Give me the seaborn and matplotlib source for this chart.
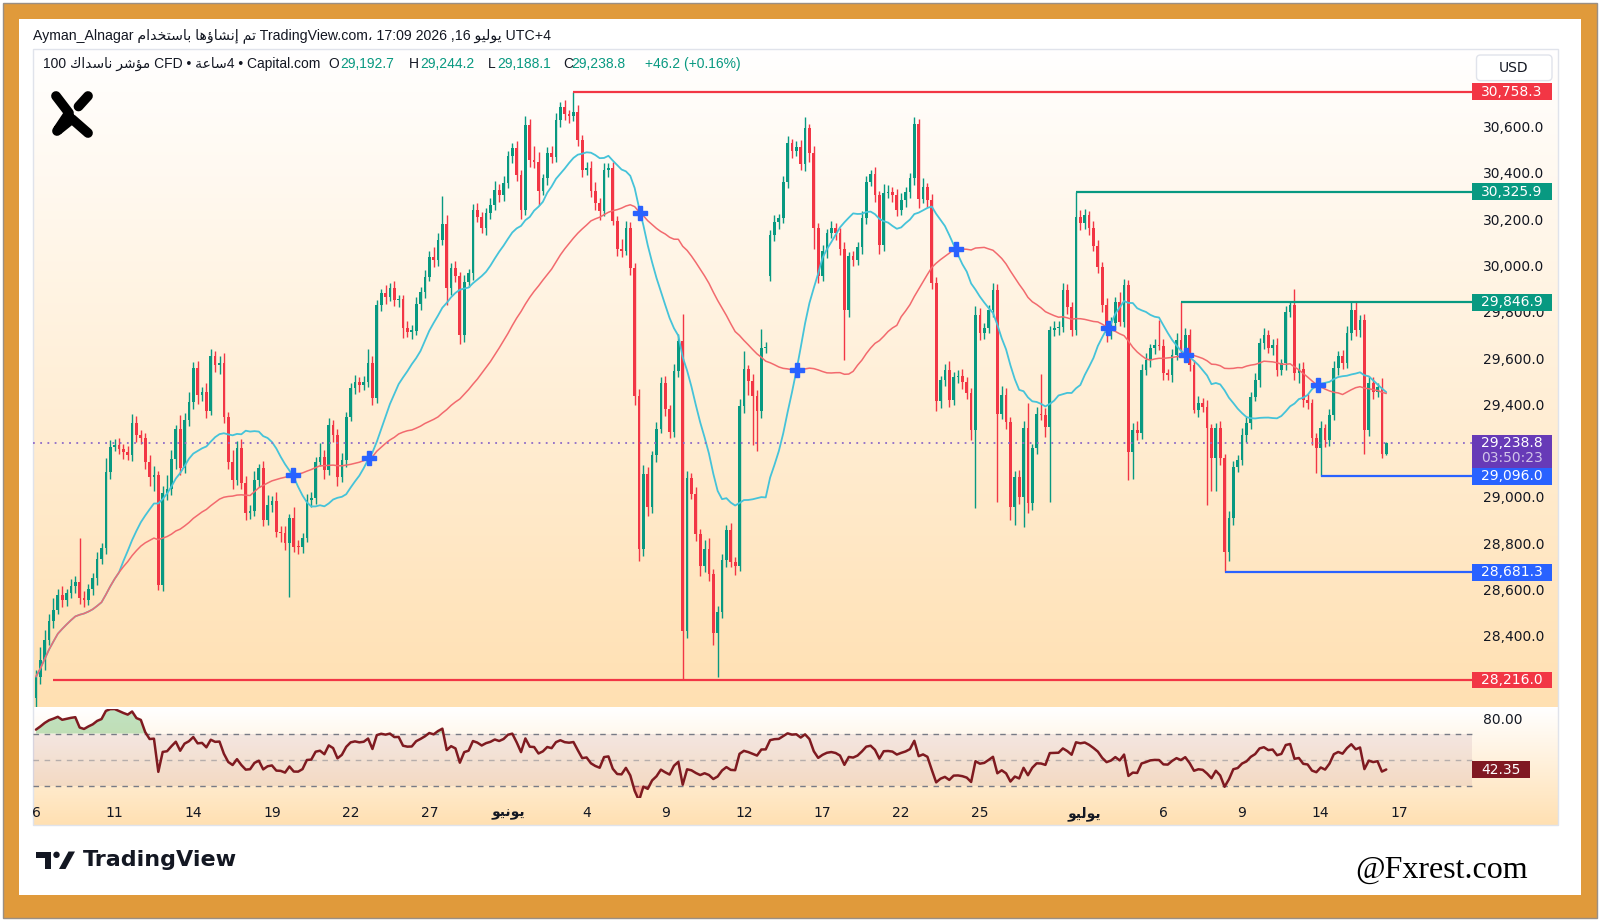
import matplotlib
matplotlib.use("Agg")
import matplotlib.pyplot as plt
import matplotlib.colors as mcolors
from matplotlib.patches import Rectangle, FancyBboxPatch, Polygon, Circle
import numpy as np
import pandas as pd
import seaborn as sns

# ---- data (4h candles, 6 per trading day) ----
first_open = 28140
closes = [
    28230, 28300, 28390, 28470, 28520, 28583, 28561, 28590, 28620, 28640,
    28570, 28560, 28610, 28655, 28737, 28787, 29116, 29224, 29230, 29215,
    29200, 29188, 29325, 29274, 29260, 29159, 29094, 29100, 28626, 29022,
    29040, 29169, 29299, 29130, 29339, 29418, 29565, 29447, 29461, 29379,
    29615, 29576, 29585, 29353, 29159, 29080, 29217, 29066, 28936, 28945,
    29080, 29130, 28906, 28972, 28990, 28857, 28850, 28806, 28914, 28792,
    28790, 28831, 28993, 29000, 29159, 29180, 29123, 29317, 29274, 29094,
    29166, 29354, 29476, 29505, 29490, 29505, 29587, 29433, 29836, 29886,
    29872, 29908, 29858, 29860, 29735, 29721, 29725, 29840, 29894, 29958,
    30045, 30030, 30117, 30185, 29908, 29994, 29960, 29706, 29937, 29973,
    30246, 30218, 30167, 30232, 30268, 30333, 30311, 30362, 30480, 30513,
    30398, 30246, 30614, 30462, 30455, 30330, 30383, 30494, 30474, 30635,
    30690, 30660, 30652, 30668, 30549, 30418, 30430, 30327, 30277, 30244,
    30418, 30430, 30200, 30079, 30070, 30170, 29996, 29443, 28781, 29104,
    28963, 29186, 29302, 29500, 29385, 29286, 29550, 29682, 28426, 29087,
    29021, 28847, 28707, 28781, 28674, 28418, 28509, 28732, 28864, 28724,
    28710, 29401, 29558, 29509, 29443, 29376, 29649, 29655, 30137, 30195,
    30211, 30368, 30534, 30501, 30520, 30443, 30600, 30492, 30170, 29963,
    30071, 30145, 30170, 30145, 30079, 29815, 30046, 30029, 30087, 30211,
    30368, 30401, 30310, 30096, 30318, 30325, 30311, 30246, 30289, 30325,
    30383, 30620, 30296, 30344, 30289, 29929, 29420, 29511, 29555, 29425,
    29526, 29530, 29504, 29454, 29295, 29792, 29713, 29735, 29814, 29900,
    29367, 29447, 29331, 28964, 29094, 29007, 29303, 28979, 29216, 29367,
    29360, 29310, 29727, 29735, 29740, 29900, 29828, 29727, 30217, 30190,
    30224, 30167, 30090, 30001, 29836, 29714, 29757, 29850, 29764, 29922,
    29202, 29296, 29282, 29555, 29598, 29649, 29663, 29660, 29541, 29535,
    29620, 29685, 29642, 29706, 29577, 29382, 29411, 29397, 29303, 29174,
    29303, 29174, 28770, 28914, 29138, 29166, 29274, 29325, 29440, 29512,
    29670, 29706, 29649, 29663, 29555, 29584, 29807, 29836, 29541, 29560,
    29426, 29411, 29260, 29217, 29303, 29253, 29361, 29562, 29616, 29584,
    29714, 29814, 29728, 29771, 29296, 29498, 29460, 29480, 29192.7, 29238.8,
]
wick_hi = [
    30, 60, 40, 30, 50, 25, 40, 20, 30, 25,
    190, 30, 20, 25, 30, 20, 60, 30, 25, 30,
    20, 25, 40, 30, 20, 25, 30, 40, 20, 30,
    60, 40, 20, 60, 30, 40, 25, 30, 20, 40,
    30, 20, 30, 45, 20, 50, 30, 40, 30, 25,
    40, 20, 30, 45, 20, 40, 25, 30, 20, 50,
    30, 20, 25, 30, 20, 60, 30, 30, 20, 25,
    30, 20, 25, 30, 20, 25, 60, 30, 20, 20,
    35, 25, 30, 20, 20, 30, 25, 30, 20, 30,
    25, 40, 30, 120, 40, 25, 30, 20, 30, 20,
    25, 30, 20, 25, 30, 40, 25, 30, 20, 25,
    30, 20, 40, 25, 60, 40, 20, 25, 30, 30,
    25, 30, 20, 90.3, 30, 20, 25, 30, 40, 20,
    30, 20, 25, 20, 40, 30, 25, 20, 30, 40,
    30, 20, 30, 25, 30, 20, 30, 30, 116, 30,
    25, 30, 20, 40, 50, 20, 25, 30, 20, 30,
    25, 30, 80, 20, 30, 25, 83, 20, 25, 30,
    20, 25, 30, 20, 25, 30, 49, 20, 30, 20,
    25, 20, 30, 20, 25, 30, 20, 25, 20, 30,
    25, 20, 30, 20, 40, 30, 20, 25, 30, 20,
    25, 30, 20, 40, 20, 25, 30, 20, 25, 40,
    20, 25, 30, 20, 25, 40, 30, 25, 20, 30,
    25, 40, 30, 20, 25, 30, 30, 108, 20, 30,
    170, 30, 20, 30, 25, 29, 25, 20, 108.9, 30,
    25, 20, 30, 25, 20, 30, 25, 20, 40, 25,
    20, 30, 40, 25, 30, 20, 25, 110, 30, 20,
    25, 30, 162, 30, 25, 20, 30, 25, 30, 20,
    25, 30, 20, 30, 25, 20, 30, 25, 20, 30,
    25, 30, 20, 25, 30, 20, 25, 11, 70, 25,
    30, 25, 20, 25, 30, 20, 25, 30, 20, 25,
    30, 33, 36, 20, 25, 30, 25, 20, 40, 5.4,
]
wick_lo = [
    90, 30, 40, 25, 30, 20, 30, 25, 20, 30,
    25, 30, 20, 25, 30, 20, 25, 30, 20, 25,
    30, 20, 25, 30, 25, 30, 40, 60, 20, 25,
    30, 25, 40, 30, 20, 25, 30, 40, 25, 30,
    20, 30, 40, 25, 30, 40, 20, 25, 30, 25,
    20, 30, 25, 20, 30, 25, 40, 30, 230, 25,
    30, 25, 20, 30, 25, 20, 40, 20, 30, 40,
    25, 30, 20, 25, 30, 20, 25, 30, 20, 25,
    30, 20, 25, 30, 40, 25, 30, 20, 25, 30,
    20, 30, 25, 20, 70, 30, 25, 40, 30, 25,
    30, 25, 20, 30, 25, 20, 30, 25, 20, 30,
    25, 40, 20, 30, 25, 60, 20, 30, 25, 20,
    30, 25, 30, 20, 25, 30, 20, 25, 30, 40,
    25, 30, 20, 30, 25, 20, 30, 40, 50, 30,
    40, 25, 30, 20, 30, 25, 20, 25, 210, 30,
    25, 30, 40, 25, 30, 50, 190, 25, 30, 20,
    40, 25, 30, 60, 210, 173, 30, 20, 24, 25,
    30, 20, 25, 30, 20, 25, 30, 40, 90, 30,
    25, 30, 20, 30, 25, 215, 30, 25, 20, 30,
    25, 20, 30, 40, 25, 20, 30, 25, 20, 30,
    25, 30, 40, 20, 30, 25, 40, 30, 25, 30,
    20, 25, 30, 25, 43, 338, 30, 25, 20, 30,
    381, 25, 30, 57, 79, 30, 129, 40, 30, 25,
    20, 43, 324, 25, 30, 20, 30, 25, 20, 30,
    25, 30, 20, 25, 30, 40, 25, 30, 20, 25,
    122, 120, 30, 25, 20, 30, 25, 20, 30, 25,
    30, 20, 25, 30, 25, 14, 30, 25, 330, 140,
    140, 30, 88.7, 40, 30, 25, 20, 30, 25, 20,
    30, 25, 20, 30, 25, 20, 30, 25, 30, 40,
    30, 25, 30, 105, 121, 30, 25, 20, 30, 25,
    20, 30, 25, 30, 106, 25, 30, 20, 20, 4.6,
]
gap_opens = {168: 29963}

bars_per_day = 6
day_ticks = [0, 3, 6, 9, 12, 15, 18, 21, 24, 27, 30, 33, 36, 40, 43, 46, 49, 52]
day_labels = ["6", "11", "14", "19", "22", "27", "يونيو", "4", "9", "12",
              "17", "22", "25", "يوليو", "6", "9", "14", "17"]
# 28,200 and 29,200 are hidden behind label boxes on the reference
price_ticks = [28400, 28600, 28800, 29000, 29400, 29600,
               29800, 30000, 30200, 30400, 30600]
level_prices = [30758.3, 30325.9, 29846.9, 29096.0, 28681.3, 28216.0]
level_start = [123, 238, 262, 294, 272, 4]
level_colors = ["#F23645", "#089981", "#089981", "#2962FF", "#2962FF", "#F23645"]
last_price = 29238.8
countdown = "03:50:23"
rsi_first = 73.0   # RSI at the left edge of the pane
rsi_last = 42.35
ohlc_text = ["29,192.7", "29,244.2", "29,188.1", "29,238.8"]
change_text = "+46.2 (+0.16%)"

# ---- minimal Arabic shaping (presentation forms, visual order) ----
AR = {
    "ا": "\ufe8d\ufe8e", "إ": "\ufe87\ufe88", "ؤ": "\ufe85\ufe86", "د": "\ufea9\ufeaa",
    "ر": "\ufead\ufeae", "و": "\ufeed\ufeee", "ة": "\ufe93\ufe94",
    "ب": "\ufe8f\ufe90\ufe91\ufe92", "ت": "\ufe95\ufe96\ufe97\ufe98",
    "خ": "\ufea5\ufea6\ufea7\ufea8", "س": "\ufeb1\ufeb2\ufeb3\ufeb4",
    "ش": "\ufeb5\ufeb6\ufeb7\ufeb8", "ع": "\ufec9\ufeca\ufecb\ufecc",
    "ك": "\ufed9\ufeda\ufedb\ufedc", "ل": "\ufedd\ufede\ufedf\ufee0",
    "م": "\ufee1\ufee2\ufee3\ufee4", "ن": "\ufee5\ufee6\ufee7\ufee8",
    "ه": "\ufee9\ufeea\ufeeb\ufeec", "ي": "\ufef1\ufef2\ufef3\ufef4",
}


def ar(text):
    out = []
    for k, ch in enumerate(text):
        forms = AR.get(ch)
        if forms is None:
            out.append(ch)
            continue
        prev = AR.get(text[k - 1], "") if k else ""
        nxt = text[k + 1] if k + 1 < len(text) else ""
        jp = len(prev) == 4
        jn = nxt in AR and len(forms) == 4
        if jp and jn:
            out.append(forms[3])
        elif jp:
            out.append(forms[1])
        elif jn:
            out.append(forms[2])
        else:
            out.append(forms[0])
    return "".join(out)[::-1]


# ---- derived series ----
opens = []
prev = first_open
for k, c in enumerate(closes):
    opens.append(gap_opens.get(k, prev))
    prev = c
o = np.array(opens, dtype=float)
c = np.array(closes, dtype=float)
hi = np.maximum(o, c) + np.array(wick_hi)
lo = np.minimum(o, c) - np.array(wick_lo)
idx = np.arange(len(c))
s = pd.Series(c)
ma_fast = s.rolling(20, min_periods=1).mean()
ma_slow = s.rolling(50, min_periods=1).mean()

# Wilder RSI(14), seeded so the first value matches the pane's left edge
avg_gain = 40.0
avg_loss = avg_gain * (100 - rsi_first) / rsi_first
rsi = [rsi_first]
for k in range(1, len(c)):
    ch = c[k] - c[k - 1]
    avg_gain = (avg_gain * 13 + max(ch, 0)) / 14
    avg_loss = (avg_loss * 13 + max(-ch, 0)) / 14
    rsi.append(100 - 100 / (1 + avg_gain / avg_loss))
rv = np.array(rsi)

GREEN, RED = "#089981", "#F23645"
TXT = "#131722"
X_LEFT, PLOT_RIGHT, BOX_RIGHT, X_RIGHT = -0.77, 328.7, 346.9, 348.3
LABEL_X = 331.1

sns.set_theme(style="white")
plt.rcParams["font.family"] = ["DejaVu Sans"]
UI_FONT = ["Liberation Sans", "DejaVu Sans"]

W, H = 1600, 921
fig = plt.figure(figsize=(16, 9.21), dpi=100)
fig.patch.set_facecolor("white")

# background / frame
bg = fig.add_axes([0, 0, 1, 1], zorder=0)
bg.set_axis_off()
bg.add_patch(Rectangle((3, 3), 1594, 915, facecolor="#E09A3B", edgecolor="#9A8F84", lw=1))
bg.add_patch(Rectangle((19, 19), 1562, 876, facecolor="white", edgecolor="none"))


def vgrad(ax, x0, x1, y0, y1, top, bottom):
    t = np.linspace(0, 1, 256)[:, None, None]
    c0 = np.array(mcolors.to_rgb(top))
    c1 = np.array(mcolors.to_rgb(bottom))
    ax.imshow(c0 + (c1 - c0) * t, extent=(x0, x1, y1, y0), aspect="auto",
              interpolation="bilinear", zorder=1)


vgrad(bg, 32.6, 1558, 49, 707, "#FFFFFF", "#FFE0B2")
vgrad(bg, 32.6, 1558, 709, 825, "#FFFFFF", "#FFE0B2")
bg.add_patch(Rectangle((32.6, 49), 1525.4, 776, facecolor="none", edgecolor="#E0E3EB", lw=1, zorder=2))
bg.set_xlim(0, W)
bg.set_ylim(H, 0)

# ---- main price pane ----
ax = fig.add_axes([32.6 / W, 1 - 707 / H, (1558 - 32.6) / W, 658 / H], zorder=1)
ax.set_facecolor("none")
colors = np.where(c >= o, GREEN, RED)
ax.vlines(idx, lo, hi, colors=colors, lw=1.0, zorder=2)
ax.bar(idx, np.maximum(np.abs(c - o), 5), bottom=np.minimum(o, c), width=0.62,
       color=colors, linewidth=0, zorder=2.1)
sns.lineplot(x=idx, y=ma_fast.values, ax=ax, color="#45C3D9", linewidth=1.3, zorder=3)
sns.lineplot(x=idx, y=ma_slow.values, ax=ax, color="#F26A6E", linewidth=1.1, zorder=3)

# MA crossings
d = (ma_fast - ma_slow).values
for k in range(21, len(d)):
    if np.sign(d[k]) != np.sign(d[k - 1]) and d[k] != 0:
        t = d[k - 1] / (d[k - 1] - d[k])
        xk = k - 1 + t
        yk = ma_fast[k - 1] + t * (ma_fast[k] - ma_fast[k - 1])
        ax.plot(xk, yk, marker="P", markersize=10, color="#2962FF",
                markeredgecolor="#2962FF", zorder=4)

# levels
for p, st, col in zip(level_prices, level_start, level_colors):
    ax.hlines(p, st, PLOT_RIGHT, colors=col, lw=1.6, zorder=3.5)
ax.hlines(last_price, X_LEFT, PLOT_RIGHT, colors="#8E6BC9", linestyles=(0, (1, 3)), lw=1.3, zorder=3.5)

# price scale
for p in price_ticks:
    ax.text(LABEL_X, p, f"{p:,.1f}", va="center", ha="left", fontsize=10, color=TXT, zorder=5)
half = 36
for p, col in zip(level_prices, level_colors):
    ax.add_patch(Rectangle((PLOT_RIGHT, p - half), BOX_RIGHT - PLOT_RIGHT, 2 * half,
                           facecolor=col, edgecolor="none", zorder=6))
    ax.text((PLOT_RIGHT + BOX_RIGHT) / 2, p, f"{p:,.1f}", va="center", ha="center",
            fontsize=10, color="white", zorder=7)
ax.add_patch(Rectangle((PLOT_RIGHT, last_price - 106), BOX_RIGHT - PLOT_RIGHT, 142,
                       facecolor="#673AB7", edgecolor="none", zorder=6.5))
ax.text((PLOT_RIGHT + BOX_RIGHT) / 2, last_price, f"{last_price:,.1f}", va="center",
        ha="center", fontsize=10, color="white", zorder=7)
ax.text((PLOT_RIGHT + BOX_RIGHT) / 2, last_price - 64, countdown, va="center",
        ha="center", fontsize=10, color="#D1C4E9", zorder=7)

ax.set_xlim(X_LEFT, X_RIGHT)
ax.set_ylim(28099, 30942)
ax.set_xticks([])
ax.set_yticks([])
ax.set_xlabel("")
ax.set_ylabel("")
for sp in ax.spines.values():
    sp.set_visible(False)

# ---- RSI pane ----
ar_ = fig.add_axes([32.6 / W, 1 - 798 / H, (1558 - 32.6) / W, 89 / H], zorder=1)
ar_.set_facecolor("none")
ar_.fill_between([X_LEFT, PLOT_RIGHT], 30, 70, color="#A8708C", alpha=0.13, lw=0, zorder=1)
ar_.hlines([70, 30], X_LEFT, PLOT_RIGHT, colors="#787B86", linestyles=(0, (4, 4)), lw=1, zorder=2)
ar_.hlines(50, X_LEFT, PLOT_RIGHT, colors="#787B86", linestyles=(0, (4, 4)), lw=1, alpha=0.5, zorder=2)
ar_.fill_between(idx, 70, rv, where=rv > 70, interpolate=True, color="#4CAF50", alpha=0.35, lw=0, zorder=2)
ar_.fill_between(idx, 30, rv, where=rv < 30, interpolate=True, color="#F23645", alpha=0.3, lw=0, zorder=2)
sns.lineplot(x=idx, y=rv, ax=ar_, color="#7F1A20", linewidth=1.8, zorder=3)
ar_.text(LABEL_X, 80, "80.00", va="center", ha="left", fontsize=10, color=TXT)
ar_.add_patch(Rectangle((PLOT_RIGHT, rsi_last - 6.3), 342 - PLOT_RIGHT, 12.6,
                        facecolor="#801922", edgecolor="none", zorder=6))
ar_.text((PLOT_RIGHT + 342) / 2, rsi_last, f"{rsi_last:.2f}", va="center", ha="center",
         fontsize=10, color="white", zorder=7)
ar_.set_xlim(X_LEFT, X_RIGHT)
ar_.set_ylim(20.6, 88.8)
ar_.set_yticks([])
ar_.set_xticks([dt * bars_per_day for dt in day_ticks])
ar_.set_xticklabels([lab if lab.isdigit() else ar(lab) for lab in day_labels])
for lab, tl in zip(day_labels, ar_.get_xticklabels()):
    if not lab.isdigit():
        tl.set_fontweight("bold")
ar_.tick_params(axis="x", length=0, pad=6, labelsize=10, labelcolor=TXT)
ar_.set_xlabel("")
ar_.set_ylabel("")
for sp in ar_.spines.values():
    sp.set_visible(False)

# ---- overlay: header, legend, logos ----
ov = fig.add_axes([0, 0, 1, 1], zorder=5)
ov.set_facecolor("none")
ov.set_axis_off()
ov.set_xlim(0, W)
ov.set_ylim(H, 0)

header = ("Ayman_Alnagar " + ar("تم إنشاؤها باستخدام") + " TradingView.com، 17:09 2026 ,16 "
          + ar("يوليو") + " UTC+4")
ov.text(32.7, 35.7, header, va="center", ha="left", fontsize=10.2, color=TXT, family=UI_FONT)
legend = "100 " + ar("مؤشر ناسداك") + " CFD • " + ar("ساعة") + "4 • Capital.com"
ov.text(42.9, 64.3, legend, va="center", ha="left", fontsize=10, color=TXT, family=UI_FONT)
for lx, key, vx, val in zip([328.8, 409, 487.8, 563], ["O", "H", "L", "C"],
                            [340, 420, 497.5, 571.6], ohlc_text):
    ov.text(lx, 64.3, key, va="center", ha="left", fontsize=10, color=TXT, family=UI_FONT)
    ov.text(vx, 64.3, val, va="center", ha="left", fontsize=10, color=GREEN, family=UI_FONT)
ov.text(645, 64.3, change_text, va="center", ha="left", fontsize=10, color=GREEN, family=UI_FONT)

ov.add_patch(FancyBboxPatch((1476.5, 55), 75.5, 25.6, boxstyle="round,pad=0,rounding_size=4",
                            facecolor="white", edgecolor="#E0E3EB", lw=1))
ov.text(1514, 67.8, "USD", va="center", ha="center", fontsize=10, color=TXT)

# X logo
ov.plot([56, 69, 57, 72, 88], [96, 113, 131, 119, 133], color="black", lw=7,
        solid_capstyle="round", solid_joinstyle="round")
ov.plot([88, 78.5], [96, 106.5], color="black", lw=7, solid_capstyle="round")

# TradingView footer logo
ov.add_patch(Rectangle((35.7, 851.5), 15.3, 6, facecolor="#131722", edgecolor="none"))
ov.add_patch(Rectangle((44.5, 851.5), 6.5, 17.5, facecolor="#131722", edgecolor="none"))
ov.add_patch(Circle((56.5, 854.8), 3.2, facecolor="#131722", edgecolor="none"))
ov.add_patch(Polygon([(59, 869), (65.5, 869), (75, 851.5), (68.5, 851.5)],
                     closed=True, facecolor="#131722", edgecolor="none"))
ov.text(82.6, 860, "TradingView", va="center", ha="left", fontsize=16, fontweight="bold", color=TXT)
ov.text(1355, 870.5, "@Fxrest.com", va="center", ha="left", fontsize=23, color="black",
        family=["Liberation Serif", "DejaVu Serif"])

fig.savefig("out.png", dpi=100, facecolor=fig.get_facecolor())
